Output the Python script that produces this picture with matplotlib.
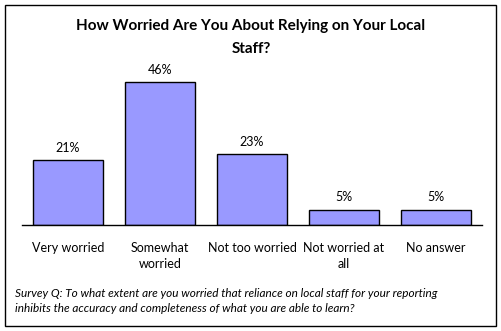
import matplotlib.pyplot as plt
from matplotlib.patches import Rectangle

categories = ["Very worried", "Somewhat\nworried", "Not too worried", "Not worried at\nall", "No answer"]
values = [21, 46, 23, 5, 5]
title = "How Worried Are You About Relying on Your Local\nStaff?"
note = ("Survey Q: To what extent are you worried that reliance on local staff for your reporting\n"
        "inhibits the accuracy and completeness of what you are able to learn?")

W, H = 502, 331
fig = plt.figure(figsize=(W / 100, H / 100), dpi=100)
plt.rcParams['font.family'] = ['Lato', 'DejaVu Sans']

# rahmen um das ganze bild
fig.patches.append(Rectangle((5 / W, 1 - 326 / H), 491 / W, 321 / H, transform=fig.transFigure,
                             fill=False, edgecolor='black', linewidth=1.0))

ax = fig.add_axes([22 / W, 1 - 225 / H, 460 / W, 155 / H])
x = range(len(values))
ax.bar(x, values, width=0.77, color='#9999FF', edgecolor='black', linewidth=1.0)
for i, v in enumerate(values):
    ax.text(i, v + 2.0, f"{v}%", ha='center', va='bottom', fontsize=9)

ax.set_xlim(-0.5, len(values) - 0.5)
ax.set_ylim(0, 50)
for s in ['top', 'right', 'left']:
    ax.spines[s].set_visible(False)
ax.spines['bottom'].set_linewidth(1.0)
ax.set_yticks([])
ax.set_xticks(list(x))
ax.set_xticklabels(categories, fontsize=9, va='top', linespacing=1.4)
ax.tick_params(axis='x', length=0, pad=12)

fig.text(251 / W, 1 - 37.5 / H, title, ha='center', va='center', fontsize=11, fontweight='bold',
         linespacing=1.75)
fig.text(15 / W, 1 - 301 / H, note, ha='left', va='center', fontsize=8.5, style='italic',
         linespacing=1.45)

plt.savefig('out.png', dpi=100)
